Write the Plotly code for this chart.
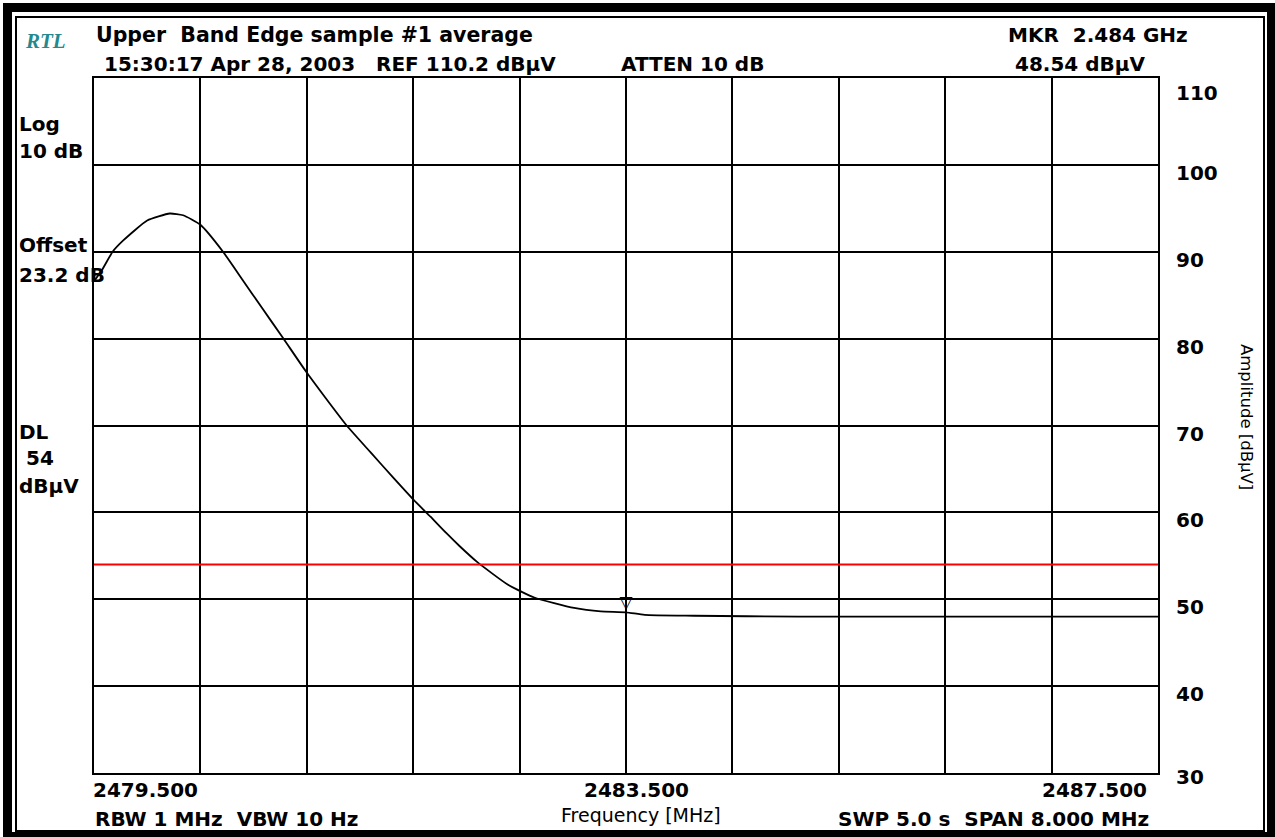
import plotly.graph_objects as go

# ---------------- data ----------------
FREQ_MHZ = [2479.50, 2479.56, 2479.64, 2479.72, 2479.90, 2480.07, 2480.17,
            2480.30, 2480.47, 2480.62, 2480.76, 2480.92, 2481.09, 2481.24, 2481.40,
            2481.58, 2481.75, 2481.90, 2482.03, 2482.15, 2482.25, 2482.38, 2482.61,
            2482.81, 2483.11, 2483.31, 2483.50, 2483.64, 2484.01, 2484.80, 2485.60,
            2486.40, 2487.50]
AMP_DBUV = [86.6, 87.9, 90.0, 91.3, 93.6, 94.4, 94.2,
            93.1, 90.0, 86.7, 83.6, 80.1, 76.3, 73.2, 70.0,
            66.9, 64.0, 61.5, 59.5, 57.6, 56.1, 54.3, 51.7,
            50.2, 49.0, 48.6, 48.5, 48.2, 48.1, 48.0, 48.0,
            48.0, 48.0]
DL_LEVEL = 54.0
MKR_FREQ = 2483.5
MKR_AMP = 48.54
X_RANGE = [2479.5, 2487.5]
Y_RANGE = [30, 110]
Y_TICKS = [110, 100, 90, 80, 70, 60, 50, 40, 30]
X_TICK_LABELS = ["2479.500", "2483.500", "2487.500"]

W, H = 1275, 837
L, R, T, B = 94, 1158, 78, 773


def px(x):
    return (x - L) / (R - L)


def py(y):
    return 1 - (y - T) / (B - T)


FONT = "DejaVu Sans"

fig = go.Figure()
fig.add_trace(go.Scatter(x=FREQ_MHZ, y=AMP_DBUV, mode="lines",
                         line=dict(color="black", width=1.8, shape="spline", smoothing=0.5),
                         hoverinfo="skip", showlegend=False))
fig.add_trace(go.Scatter(x=[MKR_FREQ], y=[MKR_AMP], mode="text", text=["▽"],
                         textposition="top center",
                         textfont=dict(family=FONT, size=17, color="black"),
                         hoverinfo="skip", showlegend=False))

shapes = []
# display line
shapes.append(dict(type="line", xref="paper", x0=0, x1=1, yref="y", y0=DL_LEVEL, y1=DL_LEVEL,
                   line=dict(color="#ff0000", width=2), layer="above"))
# outer thick frame
for (x0, y0, x1, y1) in [(3, 3, 1275, 12), (3, 832, 1275, 837), (3, 3, 12, 837), (1267, 3, 1275, 837)]:
    shapes.append(dict(type="rect", xref="paper", yref="paper", x0=px(x0), x1=px(x1),
                       y0=py(y0), y1=py(y1), fillcolor="black", line=dict(width=0)))
# inner thin frame
shapes.append(dict(type="rect", xref="paper", yref="paper", x0=px(16), x1=px(1264),
                   y0=py(17), y1=py(831), line=dict(color="black", width=2)))

ann = []


def text(t, x, y, xanchor="left", size=20, bold=True, color="black", family=FONT, italic=False,
         textangle=0):
    ann.append(dict(text=t, xref="paper", yref="paper", x=px(x), y=py(y), xanchor=xanchor,
                    yanchor="middle", showarrow=False, textangle=textangle,
                    font=dict(family=family, size=size, color=color,
                              weight="bold" if bold else "normal",
                              style="italic" if italic else "normal")))


text("RTL", 23, 41, size=21, color="#23898f", family="Liberation Serif", italic=True)
text("Upper  Band Edge sample #1 average", 94, 35, size=20.5)
text("15:30:17 Apr 28, 2003   REF 110.2 dBµV", 102, 64)
text("ATTEN 10 dB", 619, 64)
text("MKR  2.484 GHz", 1190, 35, xanchor="right")
text("48.54 dBµV", 1148, 64, xanchor="right")

text("Log", 17, 124)
text("10 dB", 17, 151)
text("Offset", 17, 245)
text("23.2 dB", 17, 275)
text("DL", 17, 432)
text(" 54", 17, 458)
text("dBµV", 17, 486)

text(X_TICK_LABELS[0], 91, 790)
text(X_TICK_LABELS[1], 636, 790, xanchor="center")
text(X_TICK_LABELS[2], 1149, 790, xanchor="right")

text("RBW 1 MHz  VBW 10 Hz", 93, 819)
text("Frequency [MHz]", 641, 815, xanchor="center", size=19, bold=False)
text("SWP 5.0 s  SPAN 8.000 MHz", 1151, 819, xanchor="right")
text("Amplitude [dBµV]", 1246, 417, xanchor="center", size=16.5, bold=False, textangle=90)

for v in Y_TICKS:
    shift = -15 if v == Y_TICKS[0] else (-4 if v == Y_TICKS[-1] else -8)
    ann.append(dict(text=str(v), xref="paper", yref="y", x=px(1174), y=v, yshift=shift,
                    xanchor="left", yanchor="middle", showarrow=False,
                    font=dict(family=FONT, size=20, color="black", weight="bold")))

fig.update_layout(
    width=W, height=H,
    margin=dict(l=L, r=W - R, t=T, b=H - B, pad=0),
    paper_bgcolor="white", plot_bgcolor="white",
    shapes=shapes, annotations=ann, showlegend=False,
    xaxis=dict(range=X_RANGE, dtick=(X_RANGE[1] - X_RANGE[0]) / 10, tick0=X_RANGE[0],
               showgrid=True, gridcolor="black", gridwidth=2, zeroline=False,
               showline=True, linecolor="black", linewidth=2, mirror=True,
               showticklabels=False, ticks="", fixedrange=True),
    yaxis=dict(range=Y_RANGE, dtick=10, showgrid=True, gridcolor="black", gridwidth=2,
               zeroline=False, showline=True, linecolor="black", linewidth=2, mirror=True,
               showticklabels=False, ticks="", fixedrange=True),
)

fig.write_html("out.html", config={"displayModeBar": False})
